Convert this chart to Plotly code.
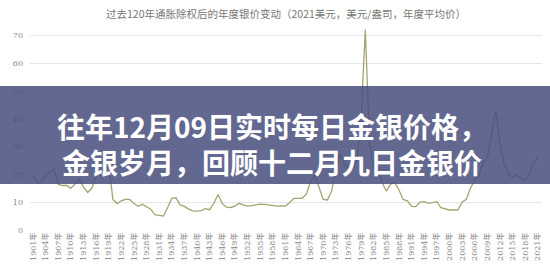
import plotly.graph_objects as go

years = list(range(1901, 2022))
silver_price = [
    19.5, 17, 17.5, 19.5, 21, 22, 16.5, 16, 16, 15,          # 1901-1910
    16.5, 18.5, 15.5, 13.5, 15, 19.5, 21, 21.5, 24, 11,      # 1911-1920
    9.5, 10.5, 11, 11, 9.5, 8.5, 9.3, 8.5, 7.5, 5.5,         # 1921-1930
    5.2, 5, 8, 11.4, 11.6, 9, 8.5, 7.5, 6.9, 6.8,            # 1931-1940
    7, 7.7, 7.3, 9.6, 12.8, 9.5, 8.2, 8.1, 8.6, 9.6,         # 1941-1950
    9, 8.6, 8.8, 9, 9.3, 9.2, 9, 8.6, 8.6, 8.7,              # 1951-1960
    8.6, 9.8, 11.4, 11.4, 11.4, 13, 17.5, 19.7, 15, 11,      # 1961-1970
    10.8, 14, 21.5, 27, 24, 22, 22, 25, 40, 72,              # 1971-1980
    32, 22, 22, 17, 14, 16.5, 17, 14.4, 11, 10.5,            # 1981-1990
    8.5, 8.4, 10, 10.2, 9.6, 9.8, 10.2, 8, 7.6, 7.2,         # 1991-2000
    7.2, 7.2, 10, 11, 15, 18, 19.7, 24, 26, 34,              # 2001-2010
    43, 31, 24, 20, 19, 19.7, 18.5, 18, 20, 24,              # 2011-2020
    26,                                                      # 2021
]
tick_years = list(range(1901, 2022, 3))
tick_labels = [f"{y}年" for y in tick_years]
y_ticks = [0, 10, 20, 30, 40, 50, 60, 70]

chart_title = "过去120年通胀除权后的年度银价变动（2021美元，美元/盎司，年度平均价）"
overlay_lines = ["往年12月09日实时每日金银价格，", "金银岁月，回顾十二月九日金银价"]

fig = go.Figure()
fig.add_trace(go.Scatter(
    x=years, y=silver_price, mode="lines",
    line=dict(color="#a6a372", width=1.3),
    hoverinfo="skip", showlegend=False,
))

fig.update_layout(
    width=550, height=271,
    margin=dict(l=30, r=8, t=27, b=41),
    paper_bgcolor="white", plot_bgcolor="white",
    xaxis=dict(
        range=[1900.3, 2022], tickmode="array", tickvals=tick_years, ticktext=tick_labels,
        tickangle=-90, showgrid=False, zeroline=False, showline=False, ticks="",
        tickfont=dict(family="DejaVu Serif, Noto Sans CJK SC", size=8, color="#888"),
    ),
    yaxis=dict(
        range=[0, 73], tickmode="array", tickvals=y_ticks,
        showgrid=True, gridcolor="#e6e6e6", gridwidth=1, zeroline=False, showline=False,
        ticks="", ticklabelstandoff=6,
        tickfont=dict(family="DejaVu Serif", size=8, color="#888"),
    ),
    shapes=[dict(
        type="rect", xref="paper", yref="paper", x0=-0.1, x1=1.1,
        y0=(271 - 41 - 184) / 203.0, y1=(271 - 41 - 86) / 203.0,
        fillcolor="rgba(71,78,124,0.85)", line=dict(width=0), layer="above",
    )],
    annotations=[
        dict(text=chart_title, xref="paper", yref="paper", x=0.50, y=1.0 + 14 / 203.0,
             showarrow=False, xanchor="center", yanchor="middle",
             font=dict(family="Noto Sans CJK SC", size=10.5, color="#777")),
        dict(text="<br>".join(overlay_lines), xref="paper", yref="paper",
             x=(272 - 30) / 512.0, y=(271 - 41 - 144) / 203.0,
             showarrow=False, xanchor="center", yanchor="middle", align="center",
             font=dict(family="Noto Sans CJK SC", size=28, color="white", weight="bold")),
    ],
)

fig.write_html("out.html")
